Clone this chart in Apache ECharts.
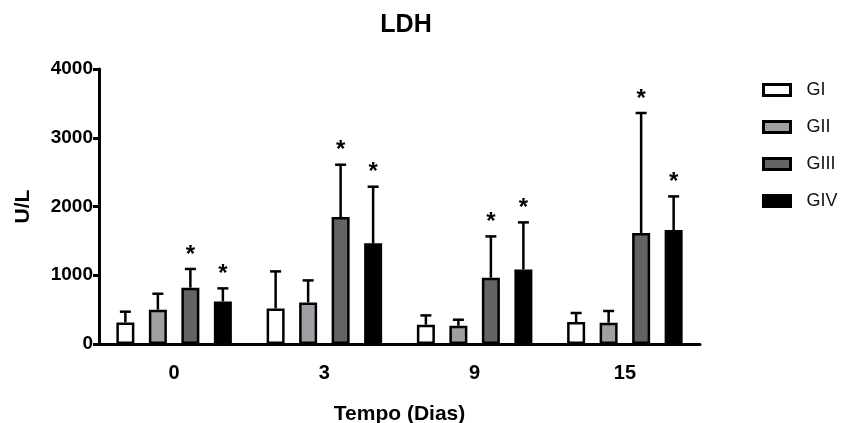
<!DOCTYPE html>
<html>
<head>
<meta charset="utf-8">
<title>LDH</title>
<script src="https://cdn.jsdelivr.net/npm/echarts@6/dist/echarts.min.js"></script>
<style>
  html, body { margin: 0; padding: 0; background: #fff; }
  #chart { width: 845px; height: 423px; }
</style>
</head>
<body>
<div id="chart"></div>
<script>
// dias de coleta
var categories = ['0', '3', '9', '15'];

// médias (U/L) por grupo
var giMean   = [314, 518, 281, 320];
var giiMean  = [499, 605, 266, 310];
var giiiMean = [819, 1847, 964, 1614];
var givMean  = [620, 1464, 1085, 1658];

// desvio padrão (só a metade de cima é desenhada)
var giSd   = [156, 538, 135, 131];
var giiSd  = [232, 320, 87, 170];
var giiiSd = [272, 761, 601, 1746];
var givSd  = [189, 824, 684, 489];

// * = diferença significativa
var giStar   = [false, false, false, false];
var giiStar  = [false, false, false, false];
var giiiStar = [true, true, true, true];
var givStar  = [true, true, true, true];

var yTicks = [0, 1000, 2000, 3000, 4000];

var FONT = 'Liberation Sans, Arial, sans-serif';
var BAR_W = 18;
var GAP_PX = 14.5;
var STEP = BAR_W + GAP_PX;

var groups = [
  { name: 'GI',   mean: giMean,   sd: giSd,   star: giStar,   color: '#ffffff' },
  { name: 'GII',  mean: giiMean,  sd: giiSd,  star: giiStar,  color: '#a0a0a4' },
  { name: 'GIII', mean: giiiMean, sd: giiiSd, star: giiiStar, color: '#636363' },
  { name: 'GIV',  mean: givMean,  sd: givSd,  star: givStar,  color: '#000000' }
];

function errorRenderer(offset) {
  return function (params, api) {
    var i = api.value(0);
    var base = api.coord([i, api.value(1)]);
    var hi = api.coord([i, api.value(2)]);
    var x = base[0] + offset;
    var children = [
      { type: 'line', shape: { x1: x, y1: base[1], x2: x, y2: hi[1] },
        style: { stroke: '#000', lineWidth: 2.5 } },
      { type: 'line', shape: { x1: x - 5.5, y1: hi[1], x2: x + 5.5, y2: hi[1] },
        style: { stroke: '#000', lineWidth: 2.5 } }
    ];
    if (api.value(3)) {
      children.push({
        type: 'text',
        style: { text: '*', x: x, y: hi[1] - 2, align: 'center', verticalAlign: 'bottom',
                 font: 'bold 24px ' + FONT, fill: '#000' }
      });
    }
    return { type: 'group', children: children };
  };
}

var series = [];
groups.forEach(function (g) {
  series.push({
    name: g.name,
    type: 'bar',
    data: g.mean,
    barWidth: BAR_W,
    barGap: (GAP_PX / BAR_W * 100) + '%',
    itemStyle: { color: g.color, borderColor: '#000', borderWidth: 2.5 },
    z: 2
  });
});
groups.forEach(function (g, k) {
  series.push({
    name: g.name + ' sd',
    type: 'custom',
    renderItem: errorRenderer((k - 1.5) * STEP),
    data: g.mean.map(function (m, i) { return [i, m, m + g.sd[i], g.star[i] ? 1 : 0]; }),
    encode: { x: 0, y: [1, 2] },
    z: 3,
    silent: true
  });
});

var chart = echarts.init(document.getElementById('chart'));
chart.setOption({
  animation: false,
  title: {
    text: 'LDH',
    left: 401,
    top: 8,
    textAlign: 'center',
    textStyle: { fontFamily: FONT, fontSize: 25, fontWeight: 'bold', color: '#000' }
  },
  legend: {
    data: groups.map(function (g) { return g.name; }),
    orient: 'vertical',
    left: 757,
    top: 76,
    itemWidth: 27,
    itemHeight: 11,
    itemGap: 19,
    icon: 'rect',
    itemStyle: { borderColor: '#000', borderWidth: 3 },
    textStyle: { fontFamily: FONT, fontSize: 18, color: '#111', padding: [0, 0, 0, 11] }
  },
  grid: { left: 99, right: 145, top: 69, bottom: 79, outerBoundsMode: 'none' },
  xAxis: {
    type: 'category',
    data: categories,
    name: 'Tempo (Dias)',
    nameLocation: 'middle',
    nameGap: 60,
    nameTextStyle: { fontFamily: FONT, fontSize: 21, fontWeight: 'bold', color: '#000' },
    axisLine: { lineStyle: { color: '#000', width: 3 } },
    axisTick: { alignWithLabel: true, length: 9, lineStyle: { color: '#000', width: 3 } },
    axisLabel: { fontFamily: FONT, fontSize: 20, fontWeight: 'bold', color: '#000', margin: 19 }
  },
  yAxis: {
    type: 'value',
    min: yTicks[0],
    max: yTicks[yTicks.length - 1],
    interval: 1000,
    name: 'U/L',
    nameLocation: 'middle',
    nameGap: 65,
    nameTextStyle: { fontFamily: FONT, fontSize: 21, fontWeight: 'bold', color: '#000' },
    axisLine: { show: true, lineStyle: { color: '#000', width: 3 } },
    axisTick: { show: true, length: 6, lineStyle: { color: '#000', width: 3 } },
    axisLabel: {
      fontFamily: FONT, fontSize: 19, fontWeight: 'bold', color: '#000', margin: 6,
      formatter: function (v) { return String(v); }
    },
    splitLine: { show: false }
  },
  series: series
});
</script>
</body>
</html>
